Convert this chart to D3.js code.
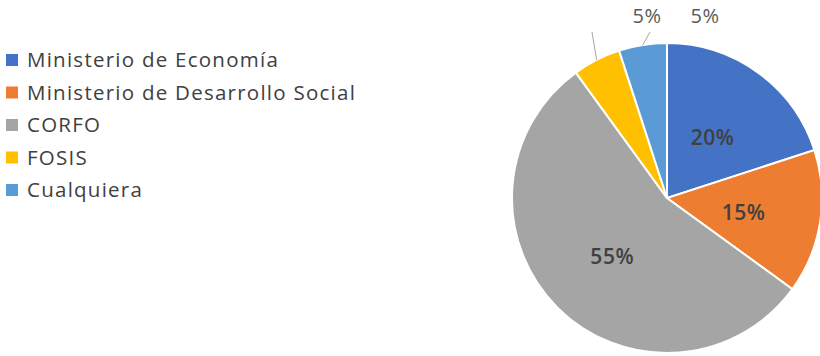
<!DOCTYPE html>
<html>
<head>
<meta charset="utf-8">
<script src="https://cdn.jsdelivr.net/npm/d3@7"></script>
<style>
  body { margin: 0; background: #fff; }
  svg { display: block; }
</style>
</head>
<body>
<div id="chart"></div>
<script>
// chart data
var categories = ["Ministerio de Economía", "Ministerio de Desarrollo Social", "CORFO", "FOSIS", "Cualquiera"];
var values = [20, 15, 55, 5, 5];
var colors = ["#4472C4", "#ED7D31", "#A5A5A5", "#FFC000", "#5B9BD5"];

var width = 820, height = 356;
var cx = 667, cy = 198, radius = 155;

var svg = d3.select("#chart").append("svg")
  .attr("width", width)
  .attr("height", height)
  .style("font-family", "'Open Sans', 'Noto Sans', sans-serif");

var data = categories.map((c, i) => ({name: c, value: values[i], color: colors[i]}));

var pie = d3.pie().value(d => d.value).sort(null);
var arcs = pie(data);
var arc = d3.arc().innerRadius(0).outerRadius(radius);
var labelArc = d3.arc().innerRadius(radius * 0.5).outerRadius(radius * 0.5);

var g = svg.append("g").attr("transform", `translate(${cx},${cy})`);

g.selectAll("path.slice")
  .data(arcs)
  .enter()
  .append("path")
  .attr("class", "slice")
  .attr("d", arc)
  .attr("fill", d => d.data.color)
  .attr("stroke", "#fff")
  .attr("stroke-width", 2);

var fmt = d => d.value + "%";

// big slices: label inside
g.selectAll("text.inner")
  .data(arcs.filter(d => d.data.value >= 10))
  .enter()
  .append("text")
  .attr("class", "inner")
  .attr("transform", d => `translate(${labelArc.centroid(d)})`)
  .attr("text-anchor", "middle")
  .attr("dy", d => d.data.value > 50 ? "0.55em" : "0.45em")
  .attr("fill", "#404040")
  .attr("font-size", 21)
  .attr("font-weight", 600)
  .attr("letter-spacing", 0.5)
  .text(d => fmt(d.data));

// small slices: leader lines + labels above the pie (Excel style)
var small = arcs.filter(d => d.data.value < 10);
// end of leader line and label offsets (dx, dy relative to pie centre)
var leaderEnd = [[-75, -166], [-17, -166]];
var labelPos = [[38, -182], [-20, -182]];

small.forEach((d, i) => {
  var mid = (d.startAngle + d.endAngle) / 2;
  var x0 = Math.sin(mid) * radius, y0 = -Math.cos(mid) * radius;
  g.append("line")
    .attr("x1", x0).attr("y1", y0)
    .attr("x2", leaderEnd[i][0]).attr("y2", leaderEnd[i][1])
    .attr("stroke", "#A6A6A6")
    .attr("stroke-width", 1);
  g.append("text")
    .attr("x", labelPos[i][0]).attr("y", labelPos[i][1])
    .attr("text-anchor", "middle")
    .attr("dy", "0.35em")
    .attr("fill", "#595959")
    .attr("font-size", 20)
    .attr("letter-spacing", 0.5)
    .text(fmt(d.data));
});

// legend
var legend = svg.append("g").attr("transform", "translate(6,60)");
var rows = legend.selectAll("g")
  .data(data)
  .enter()
  .append("g")
  .attr("transform", (d, i) => `translate(0,${i * 32.5})`);
rows.append("rect")
  .attr("x", 0).attr("y", -6)
  .attr("width", 12).attr("height", 12)
  .attr("fill", d => d.color);
rows.append("text")
  .attr("x", 21)
  .attr("dy", "0.35em")
  .attr("fill", "#404040")
  .attr("font-size", 20.5)
  .attr("letter-spacing", 1.25)
  .text(d => d.name);
</script>
</body>
</html>
